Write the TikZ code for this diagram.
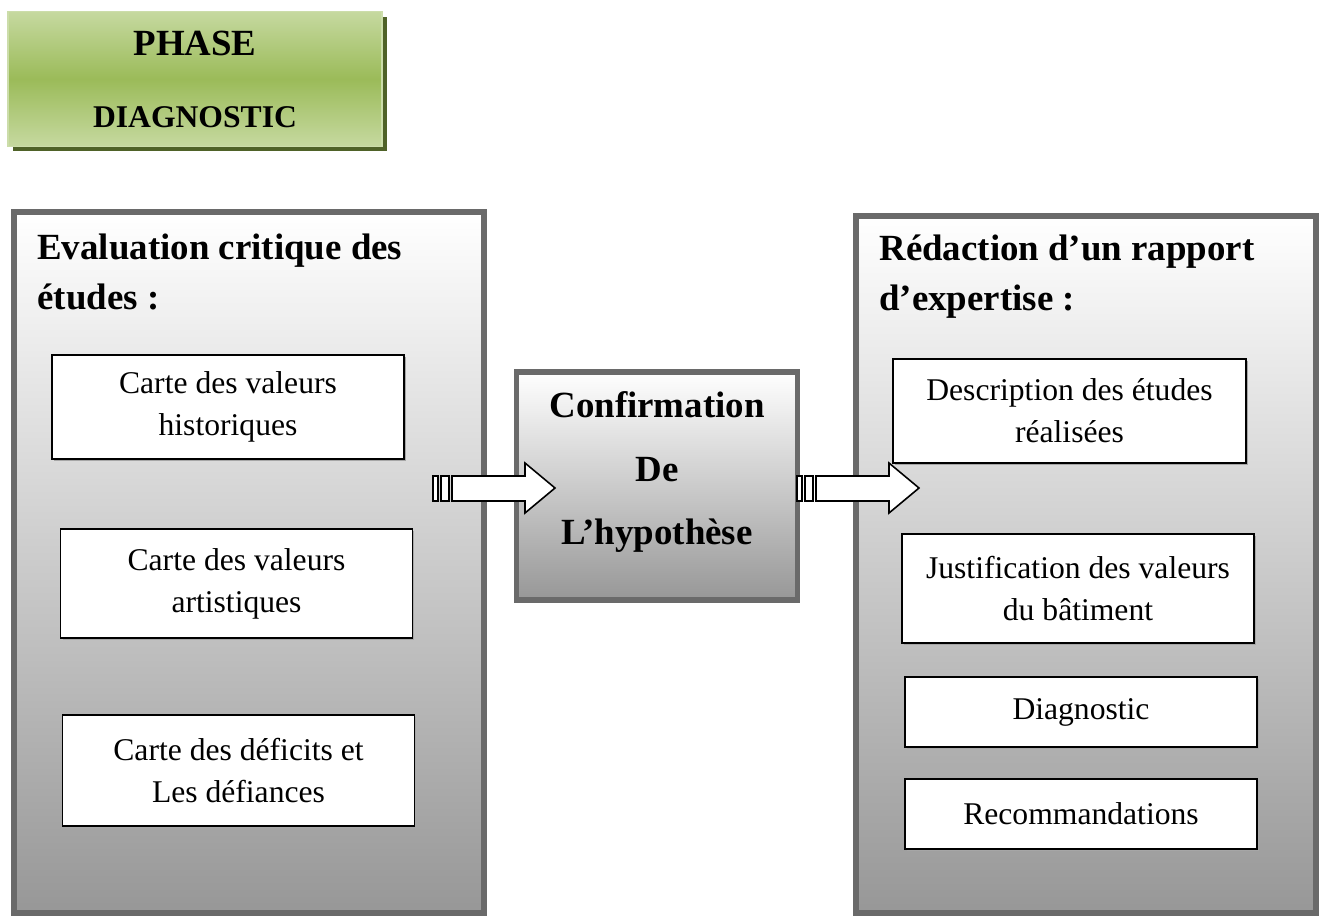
\documentclass[tikz,border=0pt]{standalone}
\usepackage{fontspec}
\setmainfont{Liberation Serif}
\usetikzlibrary{shadows}

\definecolor{panelline}{HTML}{6A6A6A}
\definecolor{panelbottom}{HTML}{979797}
\definecolor{phaselight}{HTML}{C6D9A0}
\definecolor{phasemid}{HTML}{9BBB59}
\definecolor{phaseline}{HTML}{CCDDAA}
\definecolor{phaseshadow}{HTML}{4F6228}

\begin{document}
\begin{tikzpicture}[x=0.02cm, y=-0.02cm,
  phase/.style={draw=phaseline, line width=1pt, top color=phaselight, bottom color=phaselight, middle color=phasemid, minimum width=7.48cm, minimum height=2.7cm, align=center, font=\bfseries\fontsize{21}{41}\selectfont, drop shadow={shadow xshift=0.1cm, shadow yshift=-0.1cm, fill=phaseshadow, opacity=1}},
  panel/.style={draw=panelline, line width=3.2pt, top color=white, bottom color=panelbottom, drop shadow={shadow xshift=0.06cm, shadow yshift=-0.06cm, fill=black!22, opacity=1}},
  heading/.style={anchor=west, align=left, inner sep=0pt, font=\bfseries\fontsize{21}{28.5}\selectfont},
  card/.style={draw, line width=0.8pt, fill=white, minimum width=7.04cm, align=center, font=\fontsize{18}{24}\selectfont, drop shadow={shadow xshift=0.04cm, shadow yshift=-0.04cm, fill=black!35, opacity=1}},
  stripe/.style={draw, line width=0.9pt, fill=white},
  blockarr/.style={draw, line width=0.9pt, fill=white, line join=miter}
]
\useasboundingbox (0,0) rectangle (1325,917);

\node[phase] (phase) at (195,79) {PHASE\\\fontsize{18}{41}\selectfont DIAGNOSTIC};

\node[panel, minimum width=9.4cm, minimum height=14.02cm] (eval) at (249,562.5) {};
\node[heading] (evaltitle) at (37,272) {Evaluation critique des\\études :};
\node[card, minimum height=2.08cm] (hist) at (228,407) {Carte des valeurs\\historiques};
\node[card, minimum height=2.18cm] (art) at (236.5,583.5) {Carte des valeurs\\artistiques};
\node[card, minimum height=2.22cm] (def) at (238.5,770.5) {Carte des déficits et\\Les défiances};

\node[panel, minimum width=5.62cm, minimum height=4.57cm] (hyp) at (657,486) {};
\node[align=center, font=\bfseries\fontsize{21}{36.4}\selectfont] (hyptext) at (657,472) {Confirmation\\De\\L’hypothèse};

\node[panel, minimum width=9.2cm, minimum height=13.95cm] (rap) at (1086,564.5) {};
\node[heading] (raptitle) at (879,276.5) {Rédaction d’un rapport\\d’expertise :};
\node[card, minimum width=7.06cm, minimum height=2.08cm] (descr) at (1069.5,411) {Description des études\\réalisées};
\node[card, minimum height=2.18cm] (just) at (1078,588.5) {Justification des valeurs\\du bâtiment};
\node[card, minimum height=1.4cm] (diag) at (1081,712) {Diagnostic};
\node[card, minimum height=1.4cm] (reco) at (1081,814) {Recommandations};

\foreach \x in {433,797} {
  \draw[stripe] (\x,476) rectangle (\x+5,501);
  \draw[stripe] (\x+8,476) rectangle (\x+16,501);
  \draw[blockarr] (\x+19,476) -- (\x+92,476) -- (\x+92,463) -- (\x+122,488) -- (\x+92,513) -- (\x+92,501) -- (\x+19,501) -- cycle;
}
\end{tikzpicture}
\end{document}
